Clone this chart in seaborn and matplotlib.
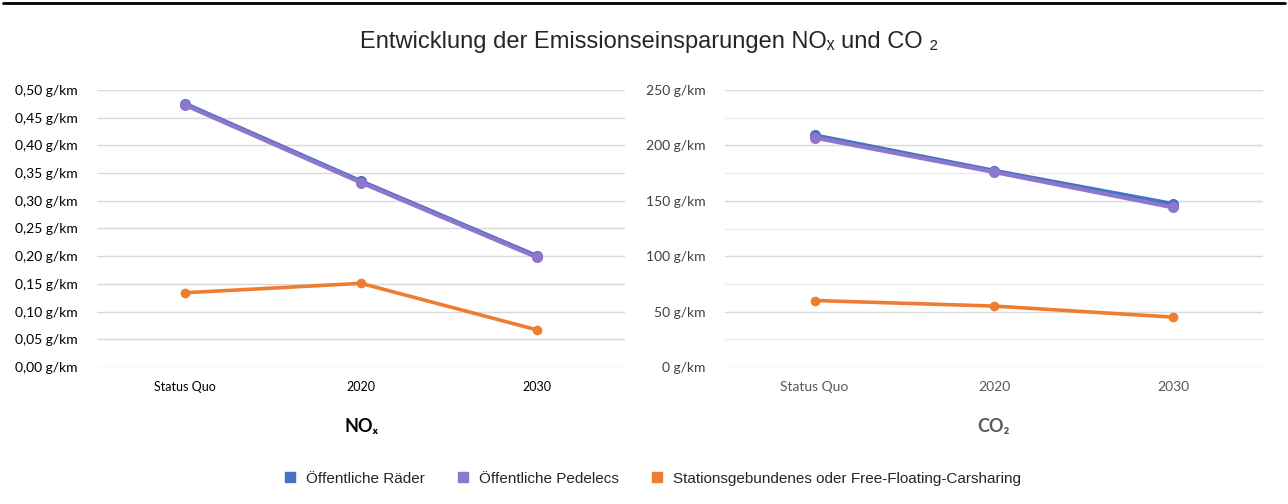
import matplotlib
matplotlib.use('Agg')
import pandas as pd
import matplotlib.pyplot as plt
import seaborn as sns
from matplotlib.lines import Line2D
from matplotlib.ticker import FuncFormatter, MultipleLocator

# Data
years = ['Status Quo', '2020', '2030']
series = ['Öffentliche Räder', 'Öffentliche Pedelecs',
          'Stationsgebundenes oder Free-Floating-Carsharing']
nox_raeder = [0.475, 0.335, 0.200]
nox_pedelecs = [0.473, 0.333, 0.198]
nox_carsharing = [0.134, 0.151, 0.067]
co2_raeder = [209, 177, 147]
co2_pedelecs = [207, 176, 144]
co2_carsharing = [60, 55, 45]

colors = {'Öffentliche Räder': '#4472C4',
          'Öffentliche Pedelecs': '#8E76CC',
          'Stationsgebundenes oder Free-Floating-Carsharing': '#ED7D31'}
widths = {'Öffentliche Räder': 3.2,
          'Öffentliche Pedelecs': 3.0,
          'Stationsgebundenes oder Free-Floating-Carsharing': 2.6}
msizes = {'Öffentliche Räder': 8,
          'Öffentliche Pedelecs': 8,
          'Stationsgebundenes oder Free-Floating-Carsharing': 7}

nox = pd.DataFrame({'Jahr': years * 3,
                    'Wert': nox_raeder + nox_pedelecs + nox_carsharing,
                    'Serie': [s for s in series for _ in years]})
co2 = pd.DataFrame({'Jahr': years * 3,
                    'Wert': co2_raeder + co2_pedelecs + co2_carsharing,
                    'Serie': [s for s in series for _ in years]})

sns.set_style('white')
plt.rcParams['font.family'] = ['Lato', 'DejaVu Sans']

fig = plt.figure(figsize=(12.88, 5.04), dpi=100)
ax1 = fig.add_axes([97 / 1288, 1 - 367 / 504, 528 / 1288, 277 / 504])
ax2 = fig.add_axes([725 / 1288, 1 - 367 / 504, 538 / 1288, 277 / 504])


def draw(ax, df, ymax, step, fmt, tick_color, xtick_color, xtick_size):
    for s in series:
        sub = df[df['Serie'] == s]
        sns.lineplot(data=sub, x='Jahr', y='Wert', ax=ax, color=colors[s],
                     lw=widths[s], marker='o', markersize=msizes[s],
                     markeredgewidth=0, sort=False, legend=False)
    ax.set_xlim(-0.5, 2.5)
    ax.set_ylim(0, ymax)
    ax.yaxis.set_major_locator(MultipleLocator(step))
    ax.yaxis.set_major_formatter(FuncFormatter(fmt))
    ax.grid(axis='y', color='#D9D9D9', lw=1)
    ax.set_axisbelow(True)
    for sp in ax.spines.values():
        sp.set_visible(False)
    ax.tick_params(axis='y', length=0, pad=14, labelsize=10, labelcolor=tick_color)
    ax.tick_params(axis='x', length=0, pad=10, labelsize=xtick_size, labelcolor=xtick_color)
    ax.set_ylabel('')


draw(ax1, nox, 0.5, 0.05, lambda v, p: f'{v:.2f}'.replace('.', ',') + ' g/km',
     '#000000', '#000000', 9)
draw(ax2, co2, 250, 50, lambda v, p: f'{v:.0f} g/km',
     '#404040', '#595959', 10)
ax2.yaxis.set_minor_locator(MultipleLocator(25))
ax2.grid(axis='y', which='minor', color='#EAEAEA', lw=0.8)

ax1.set_xlabel('NOₓ', fontsize=13, fontweight='bold', color='#000000', labelpad=18)
ax2.set_xlabel('CO₂', fontsize=13, fontweight='bold', color='#595959', labelpad=18)

fig.text(0.504, 0.917, 'Entwicklung der Emissionseinsparungen NOₓ und CO ₂',
         ha='center', va='center', fontsize=17,
         family=['Liberation Sans', 'DejaVu Sans'])

handles = [Line2D([], [], ls='none', marker='s', markersize=7.5,
                  color=colors[s]) for s in series]
fig.legend(handles, series, loc='center', bbox_to_anchor=(0.503, 0.05),
           ncol=3, frameon=False, handletextpad=0.05, columnspacing=1.5,
           prop={'family': ['Liberation Sans', 'DejaVu Sans'], 'size': 11})

# thin black rule along the top edge
fig.add_artist(Line2D([3 / 1288, 1285 / 1288], [1 - 3 / 504, 1 - 3 / 504],
                      color='black', lw=2, transform=fig.transFigure))

fig.savefig('out.png', dpi=100)
